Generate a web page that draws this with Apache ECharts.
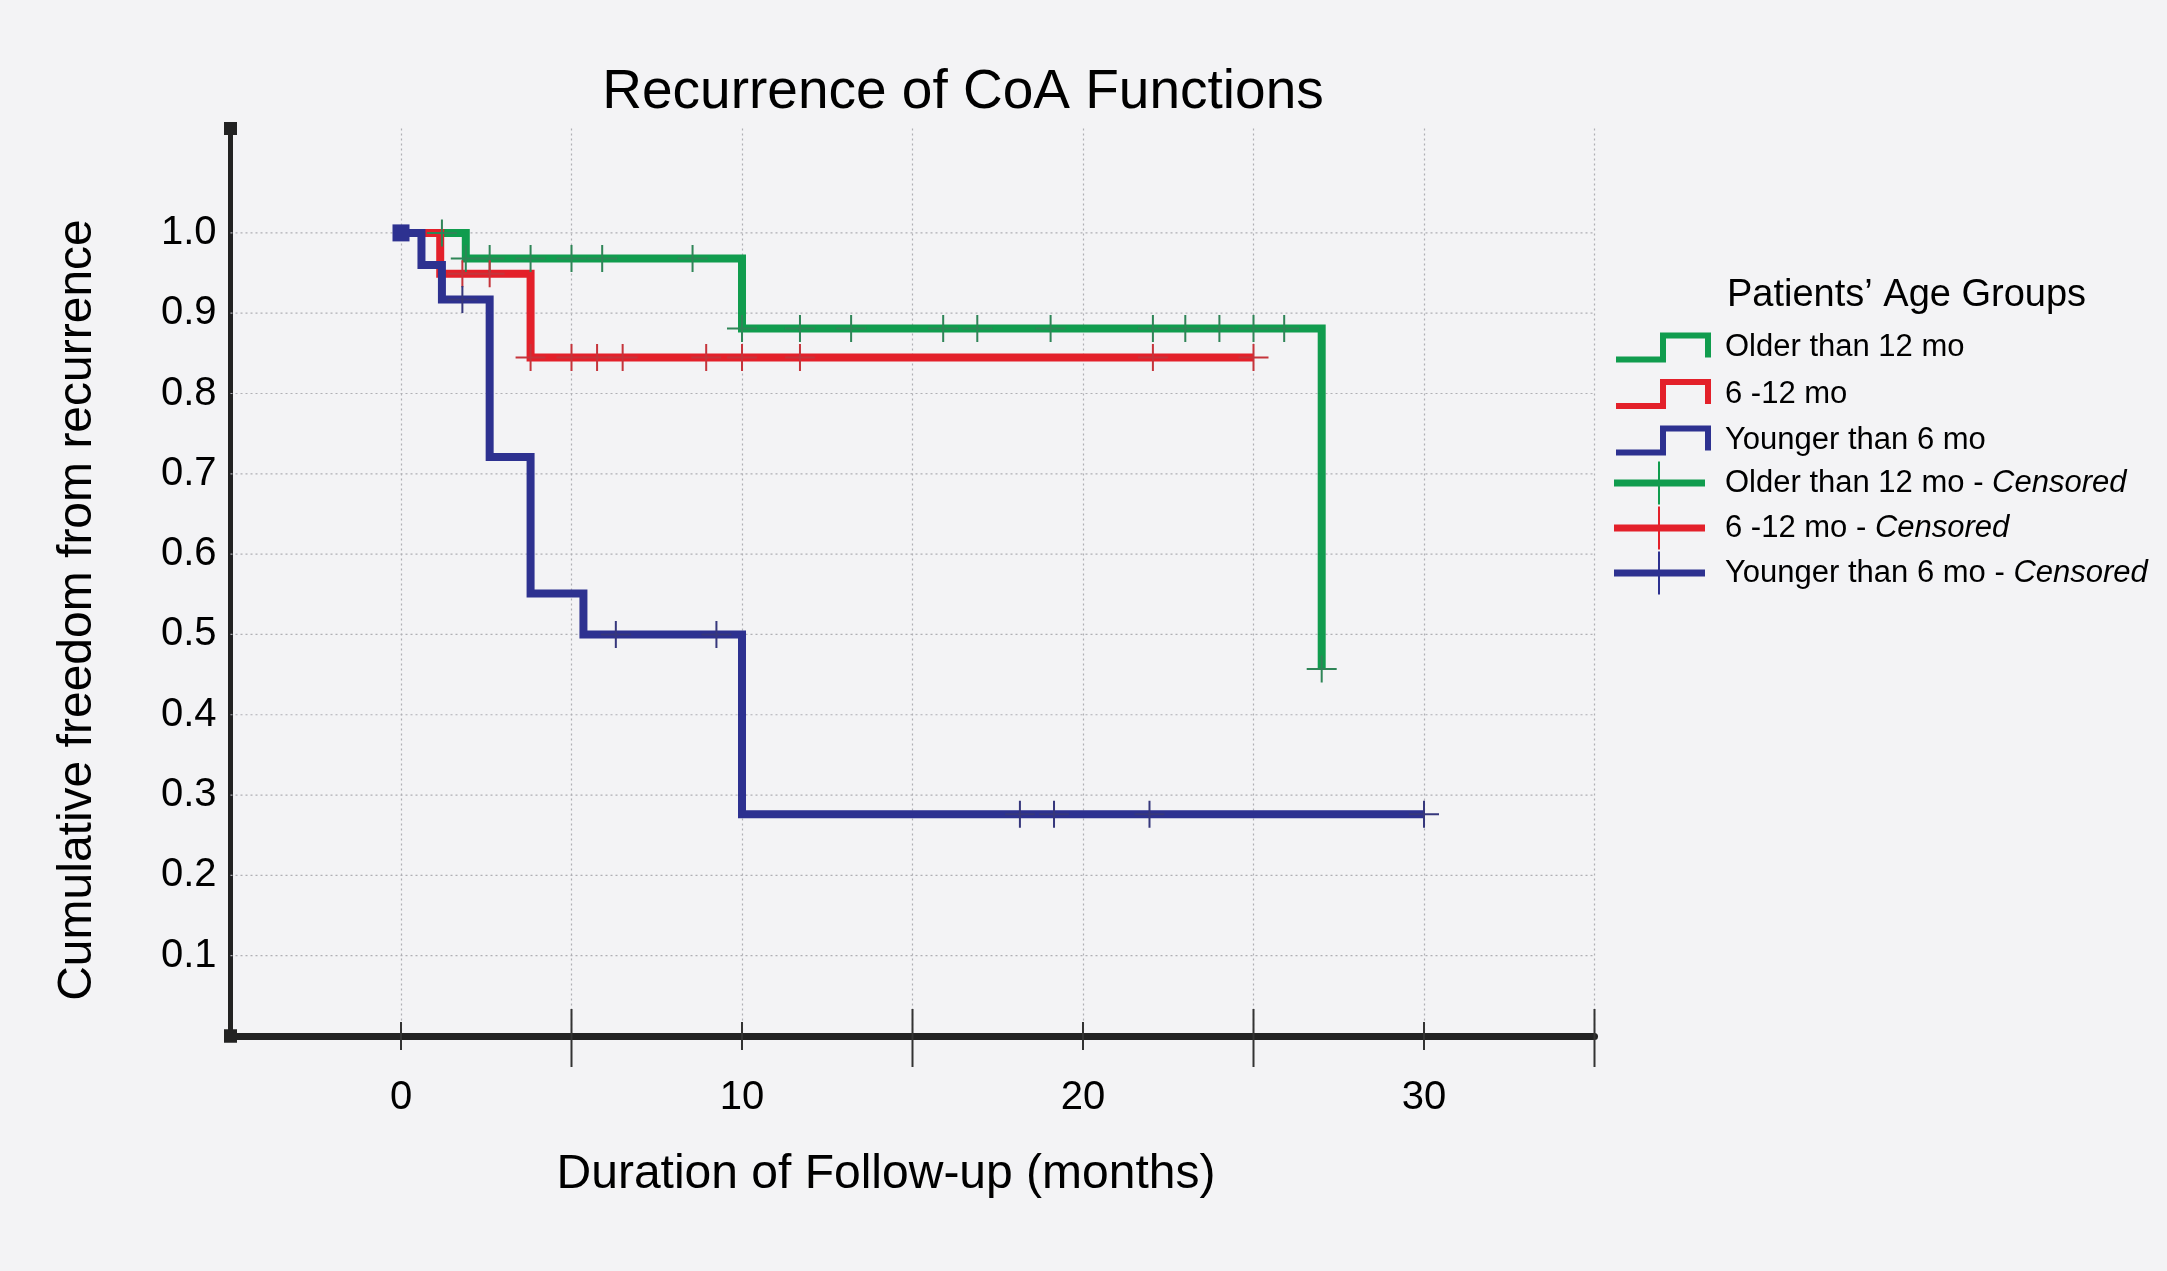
<!DOCTYPE html>
<html><head><meta charset="utf-8">
<script src="https://cdn.jsdelivr.net/npm/echarts@6/dist/echarts.min.js"></script>
<style>html,body{margin:0;padding:0;background:#f3f3f5;} #c{width:2167px;height:1271px;}</style>
</head><body><div id="c"></div>
<script>
const FONT = '"Liberation Sans", Arial, Helvetica, sans-serif';

// Kaplan-Meier step points: time (months) and cumulative freedom from recurrence
const olderTime = [0, 1.9, 10, 27];
const olderSurv = [1.0, 0.968, 0.881, 0.457];
const midTime = [0, 1.15, 3.8, 25];
const midSurv = [1.0, 0.949, 0.845, 0.845];
const youngTime = [0, 0.6, 1.2, 2.6, 3.8, 5.35, 10, 30];
const youngSurv = [1.0, 0.96, 0.917, 0.721, 0.551, 0.5, 0.276, 0.276];

// censored observations
const olderCensTime = [1.2, 1.9, 2.6, 3.8, 5.0, 5.9, 8.55, 10, 11.7, 13.2, 15.9, 16.9, 19.05, 22.05, 23.0, 24.0, 25.0, 25.9, 27];
const olderCensSurv = [1.0, 0.968, 0.968, 0.968, 0.968, 0.968, 0.968, 0.881, 0.881, 0.881, 0.881, 0.881, 0.881, 0.881, 0.881, 0.881, 0.881, 0.881, 0.457];
const midCensTime = [1.8, 2.6, 3.8, 5.0, 5.75, 6.5, 8.95, 10.0, 11.7, 22.05, 25.0];
const midCensSurv = [0.949, 0.949, 0.845, 0.845, 0.845, 0.845, 0.845, 0.845, 0.845, 0.845, 0.845];
const youngCensTime = [1.8, 6.3, 9.25, 18.15, 19.15, 21.95, 30];
const youngCensSurv = [0.917, 0.5, 0.5, 0.276, 0.276, 0.276, 0.276];

// axes
const xMin = -5, xMax = 35, xStep = 5;
const xLabelVals = [0, 10, 20, 30];
const xTickVals = [0, 5, 10, 15, 20, 25, 30, 35];
const yMin = 0, yMax = 1.13, yStep = 0.1;
const yGridVals = [0.1, 0.2, 0.3, 0.4, 0.5, 0.6, 0.7, 0.8, 0.9, 1.0];

const names = ['Older than 12 mo', '6 -12 mo', 'Younger than 6 mo'];
const censNames = names.map(n => n + ' - Censored');
const colors = ['#109c4e', '#e3202a', '#2d3190'];
const tickColors = ['#2f8557', '#c5343b', '#36377c'];

const zip = (a, b) => a.map((v, i) => [v, b[i]]);

const stepIcon = 'path://M0,24 L44,24 L44,0 L95,0 L95,25 L89,25 L89,6 L50,6 L50,30 L0,30 Z';
const censIcon = 'path://M0,18 L44,18 L44,0 L46,0 L46,18 L91,18 L91,25 L46,25 L46,43 L44,43 L44,25 L0,25 Z';
const plusSym = 'path://M0,12.5 L14,12.5 L14,0 L16,0 L16,12.5 L30,12.5 L30,14.5 L16,14.5 L16,27 L14,27 L14,14.5 L0,14.5 Z';

function lineSeries(name, t, s, color, first) {
  const data = zip(t, s).map((p, i) => (i === 0 && first) ? {value: p, symbol: 'rect', symbolSize: 17} : {value: p});
  return {
    name, type: 'line', step: 'end', data, symbol: 'none', showSymbol: true,
    itemStyle: {color}, lineStyle: {color, width: 8, join: 'miter', cap: 'butt'},
    z: 2, silent: true, emphasis: {disabled: true}
  };
}
function censSeries(name, t, s, color) {
  return {
    name, type: 'scatter', data: zip(t, s), symbol: plusSym, symbolSize: [30, 27],
    itemStyle: {color, opacity: 1}, z: 3, silent: true, emphasis: {disabled: true}
  };
}

const chart = echarts.init(document.getElementById('c'));
chart.setOption({
  animation: false,
  backgroundColor: '#f3f3f5',
  grid: {left: 230.5, right: 572.5, top: 128.5, bottom: 235, containLabel: false},
  xAxis: {
    type: 'value', min: xMin, max: xMax, interval: xStep,
    axisLine: {show: true, onZero: false, symbol: ['rect', 'none'], symbolSize: [13, 13], lineStyle: {color: '#222', width: 7}},
    axisTick: {show: false},
    axisLabel: {formatter: v => xLabelVals.includes(v) ? String(v) : '', fontSize: 40, color: '#000', fontFamily: FONT, margin: 42},
    splitLine: {show: true, lineStyle: {color: '#afafb4', width: 1.2, type: [2, 3]}}
  },
  yAxis: {
    type: 'value', min: yMin, max: yMax, interval: yStep,
    axisLine: {show: true, onZero: false, symbol: ['rect', 'rect'], symbolSize: [13, 13], lineStyle: {color: '#222', width: 5}},
    axisTick: {show: false},
    axisLabel: {formatter: v => (v > 0.05 && v < 1.05) ? v.toFixed(1) : '', fontSize: 40, color: '#000', fontFamily: FONT, margin: 14, padding: [8, 0, 0, 0]},
    splitLine: {show: false}
  },
  legend: [
    {
      data: names, orient: 'vertical', left: 1616, top: 332, padding: 0, itemGap: 15.5,
      itemWidth: 95, itemHeight: 30, icon: stepIcon, selectedMode: false,
      textStyle: {fontSize: 31, color: '#000', fontFamily: FONT, padding: [0, 0, 0, 9]}
    },
    {
      data: censNames.map((n, i) => ({name: n, itemStyle: {color: colors[i]}})),
      orient: 'vertical', left: 1614, top: 461.5, padding: 0, itemGap: 2,
      itemWidth: 91, itemHeight: 43, icon: censIcon, selectedMode: false,
      formatter: n => '{n|' + n.replace(' - Censored', ' - ') + '}{i|Censored}',
      textStyle: {fontSize: 31, color: '#000', fontFamily: FONT, padding: [0, 0, 0, 15],
        rich: {n: {fontSize: 31, color: '#000', fontFamily: FONT}, i: {fontSize: 31, color: '#000', fontFamily: FONT, fontStyle: 'italic'}}}
    }
  ],
  graphic: [
    {type: 'text', x: 963, y: 93, silent: true, style: {text: 'Recurrence of CoA Functions', font: '55px ' + FONT, fill: '#000', align: 'center', verticalAlign: 'middle', textAlign: 'center', textVerticalAlign: 'middle'}},
    {type: 'text', x: 1727, y: 296, silent: true, style: {text: 'Patients\u2019 Age Groups', font: '38px ' + FONT, fill: '#000', align: 'left', verticalAlign: 'middle', textAlign: 'left', textVerticalAlign: 'middle'}},
    {type: 'text', x: 886, y: 1175, silent: true, style: {text: 'Duration of Follow-up (months)', font: '48px ' + FONT, fill: '#000', align: 'center', verticalAlign: 'middle', textAlign: 'center', textVerticalAlign: 'middle'}},
    {type: 'text', x: 78, y: 610, rotation: Math.PI / 2, silent: true, style: {text: 'Cumulative freedom from recurrence', font: '48px ' + FONT, fill: '#000', align: 'center', verticalAlign: 'middle', textAlign: 'center', textVerticalAlign: 'middle'}}
  ],
  series: [
    {
      type: 'custom', name: 'hgrid', silent: true, z: 1,
      data: yGridVals.map(v => [xMin, v]),
      renderItem: (params, api) => {
        const v = api.value(1);
        const p1 = api.coord([xMin, v]), p2 = api.coord([xMax, v]);
        return {type: 'line', shape: {x1: p1[0], y1: p1[1], x2: p2[0], y2: p2[1]}, style: {stroke: '#afafb4', lineWidth: 1.2, lineDash: [2, 3]}};
      }
    },
    lineSeries(names[0], olderTime, olderSurv, colors[0], false),
    lineSeries(names[1], midTime, midSurv, colors[1], false),
    lineSeries(names[2], youngTime, youngSurv, colors[2], true),
    censSeries(censNames[0], olderCensTime, olderCensSurv, tickColors[0]),
    censSeries(censNames[1], midCensTime, midCensSurv, tickColors[1]),
    censSeries(censNames[2], youngCensTime, youngCensSurv, tickColors[2]),
    {
      type: 'custom', name: 'xticks', silent: true, z: 4, clip: false,
      data: xTickVals.map(v => [v, yMin]),
      renderItem: (params, api) => {
        const v = api.value(0);
        const p = api.coord([v, yMin]);
        const longT = (v % 10) !== 0;
        return {type: 'line', shape: {x1: p[0], y1: p[1] - (longT ? 27 : 14), x2: p[0], y2: p[1] + (longT ? 31 : 14)}, style: {stroke: '#333', lineWidth: 2}};
      }
    }
  ]
});
</script>
</body></html>
